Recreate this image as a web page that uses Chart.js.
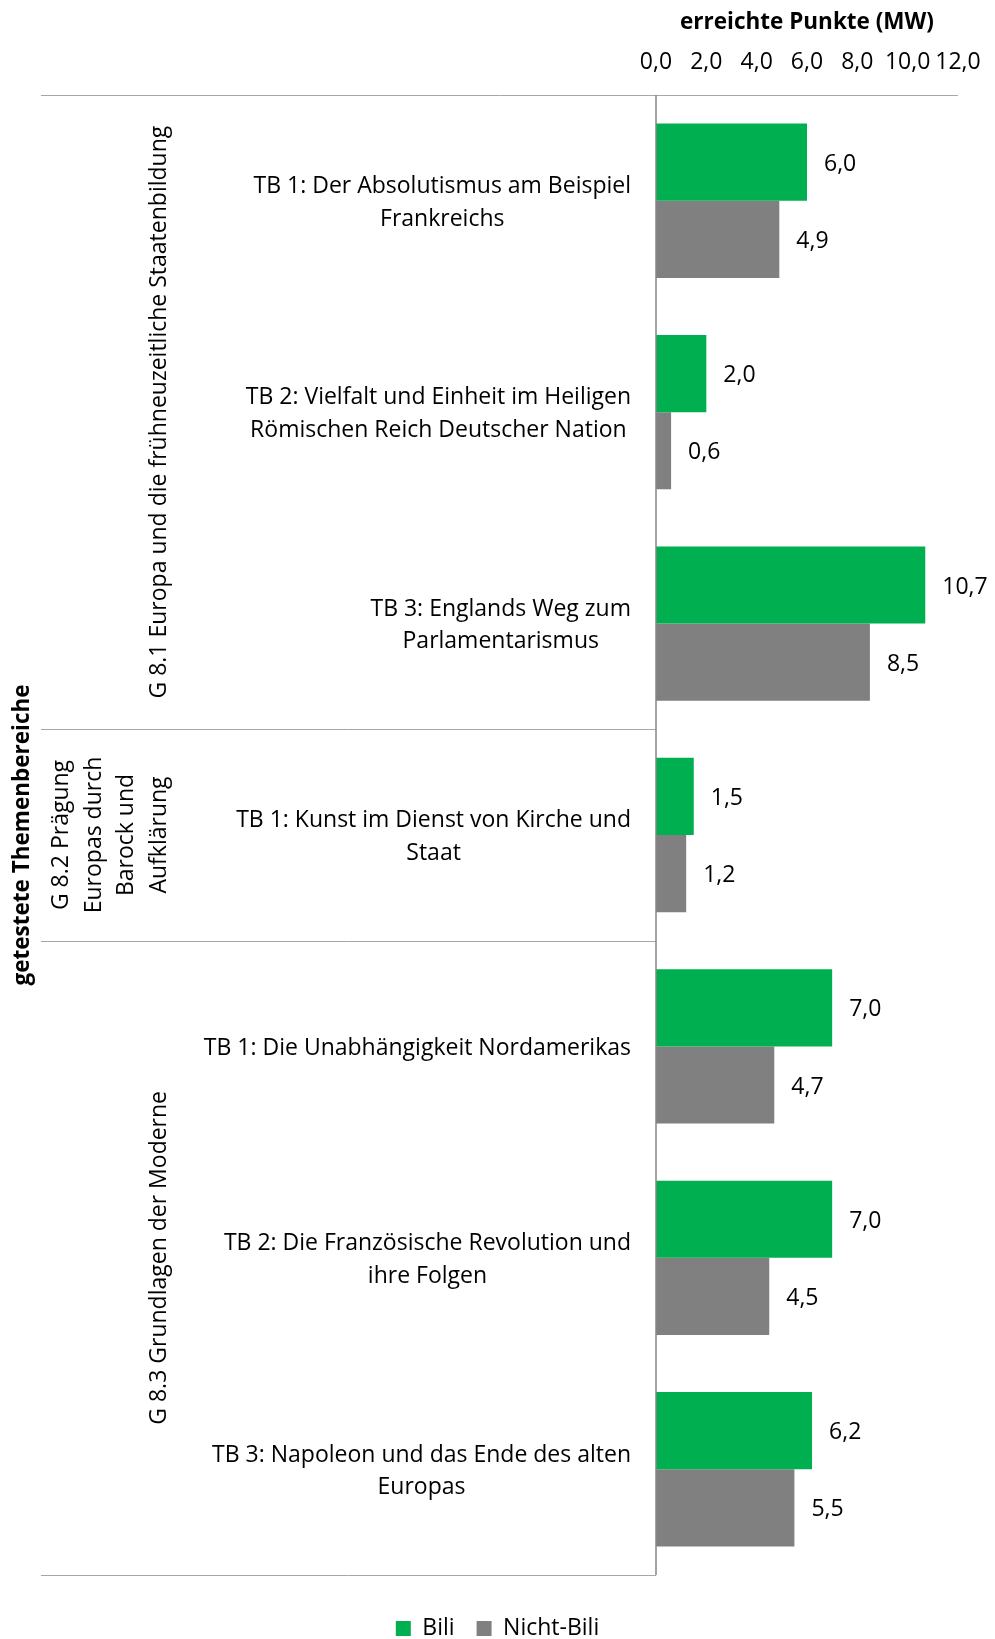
<!DOCTYPE html>
<html>
<head>
<meta charset="utf-8">
<script src="https://cdn.jsdelivr.net/npm/chart.js@4.4.1/dist/chart.umd.min.js"></script>
<style>
  body { margin: 0; background: #fff; }
</style>
</head>
<body>
<canvas id="themenChart" width="995" height="1639"></canvas>
<script>
// Kategorien (Zeilen der Beschriftung)
const categories = [
    ['TB 1: Der Absolutismus am Beispiel', 'Frankreichs'],
    ['TB 2: Vielfalt und Einheit im Heiligen', 'Römischen Reich Deutscher Nation'],
    ['TB 3: Englands Weg zum', 'Parlamentarismus'],
    ['TB 1: Kunst im Dienst von Kirche und', 'Staat'],
    ['TB 1: Die Unabhängigkeit Nordamerikas'],
    ['TB 2: Die Französische Revolution und', 'ihre Folgen'],
    ['TB 3: Napoleon und das Ende des alten', 'Europas']
];
const biliValues = [6.0, 2.0, 10.7, 1.5, 7.0, 7.0, 6.2];
const nichtBiliValues = [4.9, 0.6, 8.5, 1.2, 4.7, 4.5, 5.5];
const seriesNames = ['Bili', 'Nicht-Bili'];
const groupNames = [
    ['G 8.1 Europa und die frühneuzeitliche Staatenbildung'],
    ['G 8.2 Prägung', 'Europas durch', 'Barock und', 'Aufklärung'],
    ['G 8.3 Grundlagen der Moderne']
];
const groupSizes = [3, 1, 3];

const FONT = '"Open Sans"';
const FS = 23;
const FS_BOLD = 22.5;
const fmt = v => Number(v).toFixed(1).replace('.', ',');

const themenPlugin = {
    id: 'themen',
    afterDraw(chart) {
        const ctx = chart.ctx;
        const area = chart.chartArea;
        const yScale = chart.scales.y;
        const n = chart.data.labels.length;
        const catH = (area.bottom - area.top) / n;
        const lineLeft = 41;
        const lh = 32.5;
        const dy = 2; // kleine Korrektur der Textlage

        ctx.save();
        // Linien
        ctx.strokeStyle = '#a6a6a6';
        ctx.lineWidth = 1;
        ctx.beginPath();
        ctx.moveTo(lineLeft, area.top + 0.5);
        ctx.lineTo(area.right, area.top + 0.5);
        let idx = 0;
        groupSizes.forEach(size => {
            idx += size;
            const yb = Math.round(yScale.getPixelForValue(idx - 1) + catH / 2) + 0.5;
            ctx.moveTo(lineLeft, yb);
            ctx.lineTo(area.left, yb);
        });
        ctx.stroke();
        ctx.strokeStyle = '#868686';
        ctx.lineWidth = 1.5;
        ctx.beginPath();
        ctx.moveTo(area.left, area.top);
        ctx.lineTo(area.left, area.bottom);
        ctx.stroke();

        ctx.fillStyle = '#000';
        ctx.textBaseline = 'middle';

        // Kategorie-Beschriftungen
        ctx.font = FS + 'px ' + FONT;
        ctx.textAlign = 'center';
        chart.data.labels.forEach((lines, i) => {
            const yc = yScale.getPixelForValue(i) + dy;
            const w = Math.max(...lines.map(t => ctx.measureText(t).width));
            const cx = area.left - 25 - w / 2;
            lines.forEach((t, k) => {
                ctx.fillText(t, cx, yc + (k - (lines.length - 1) / 2) * lh);
            });
        });

        // Gruppen (gedreht)
        idx = 0;
        groupSizes.forEach((size, g) => {
            const yTop = yScale.getPixelForValue(idx) - catH / 2;
            const yBot = yScale.getPixelForValue(idx + size - 1) + catH / 2;
            idx += size;
            const lines = groupNames[g];
            lines.forEach((t, k) => {
                ctx.save();
                ctx.translate(159 - (lines.length - 1 - k) * lh, (yTop + yBot) / 2);
                ctx.rotate(-Math.PI / 2);
                ctx.fillText(t, 0, 0);
                ctx.restore();
            });
        });

        // y-Achsentitel
        ctx.save();
        ctx.font = 'bold ' + FS_BOLD + 'px ' + FONT;
        ctx.translate(23, (area.top + area.bottom) / 2);
        ctx.rotate(-Math.PI / 2);
        ctx.fillText('getestete Themenbereiche', 0, 0);
        ctx.restore();

        // Datenbeschriftungen
        ctx.font = FS + 'px ' + FONT;
        ctx.textAlign = 'left';
        chart.data.datasets.forEach((ds, d) => {
            chart.getDatasetMeta(d).data.forEach((bar, i) => {
                ctx.fillText(fmt(ds.data[i]), bar.x + 17, bar.y + dy);
            });
        });
        ctx.restore();
    }
};

new Chart(document.getElementById('themenChart'), {
    type: 'bar',
    data: {
        labels: categories,
        datasets: [{
            label: seriesNames[0],
            data: biliValues,
            backgroundColor: '#00b050',
            borderWidth: 0
        }, {
            label: seriesNames[1],
            data: nichtBiliValues,
            backgroundColor: '#808080',
            borderWidth: 0
        }]
    },
    options: {
        indexAxis: 'y',
        responsive: false,
        animation: false,
        categoryPercentage: 0.73,
        barPercentage: 1,
        layout: {
            padding: {left: 37, right: 37, top: 0, bottom: -11}
        },
        scales: {
            x: {
                position: 'top',
                min: 0,
                max: 12,
                grid: {display: false, drawTicks: false},
                border: {display: false},
                ticks: {
                    stepSize: 2,
                    padding: 19,
                    autoSkip: false,
                    maxRotation: 0,
                    minRotation: 0,
                    color: '#000',
                    font: {family: FONT, size: FS},
                    callback: v => fmt(v)
                },
                title: {
                    display: true,
                    text: 'erreichte Punkte (MW)',
                    color: '#000',
                    padding: {top: 9},
                    font: {family: FONT, size: FS_BOLD, weight: 'bold'}
                },
                afterFit: scale => {
                    scale.height = 95;
                    scale.paddingLeft = 0;
                    scale.paddingRight = 0;
                }
            },
            y: {
                grid: {display: false, drawTicks: false},
                border: {display: false},
                ticks: {display: false},
                afterFit: scale => { scale.width = 619; }
            }
        },
        plugins: {
            tooltip: {enabled: false},
            legend: {
                display: true,
                position: 'bottom',
                title: {display: true, text: ' ', font: {size: 10, lineHeight: 2}, padding: 0},
                labels: {
                    boxWidth: 15,
                    boxHeight: 15,
                    padding: 22,
                    color: '#000',
                    font: {family: FONT, size: FS}
                }
            }
        }
    },
    plugins: [themenPlugin]
});
</script>
</body>
</html>
